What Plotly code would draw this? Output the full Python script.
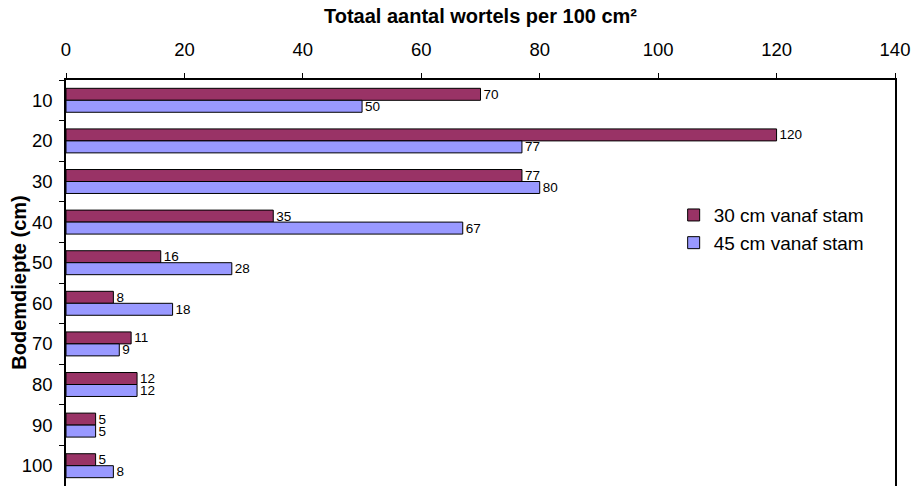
import plotly.graph_objects as go

depths = ["10", "20", "30", "40", "50", "60", "70", "80", "90", "100"]
roots_30cm = [70, 120, 77, 35, 16, 8, 11, 12, 5, 5]
roots_45cm = [50, 77, 80, 67, 28, 18, 9, 12, 5, 8]
x_ticks = [0, 20, 40, 60, 80, 100, 120, 140]

font_family = "Liberation Sans, Arial, sans-serif"
label_font = dict(size=13.5, color="black", family=font_family)

fig = go.Figure()
fig.add_trace(go.Bar(
    y=depths, x=roots_30cm, orientation="h", name="30 cm vanaf stam",
    marker=dict(color="#993366", line=dict(color="black", width=1)),
    text=roots_30cm, textposition="outside", cliponaxis=False,
    constraintext="none", textfont=label_font,
))
fig.add_trace(go.Bar(
    y=depths, x=roots_45cm, orientation="h", name="45 cm vanaf stam",
    marker=dict(color="#9999FF", line=dict(color="black", width=1)),
    text=roots_45cm, textposition="outside", cliponaxis=False,
    constraintext="none", textfont=label_font,
))

# Vertical axis title placed by hand so it sits close to the tick labels
fig.add_annotation(
    text="<b>Bodemdiepte (cm)</b>", textangle=-90,
    xref="paper", yref="paper", x=-0.057, y=0.5,
    xanchor="center", yanchor="middle", showarrow=False,
    font=dict(size=20, family=font_family, color="black"),
)

fig.update_layout(
    width=914, height=486,
    margin=dict(l=66, r=19, t=80, b=0),
    paper_bgcolor="white", plot_bgcolor="white",
    font=dict(family=font_family, color="black"),
    barmode="group", bargap=0.41, bargroupgap=0,
    showlegend=True,
    legend=dict(
        x=0.733, y=0.714, xanchor="left", yanchor="top",
        font=dict(size=19, family=font_family),
        bgcolor="rgba(0,0,0,0)", itemwidth=30,
    ),
    xaxis=dict(
        side="top", range=[0, 140], tickvals=x_ticks,
        showgrid=False, zeroline=False,
        showline=True, linecolor="black", linewidth=1.5,
        ticks="outside", ticklen=5, tickcolor="black",
        tickfont=dict(size=18.5), ticklabelstandoff=10,
        title=dict(text="<b>Totaal aantal wortels per 100 cm²</b>",
                   font=dict(size=20), standoff=10),
    ),
    yaxis=dict(
        autorange="reversed", type="category",
        showgrid=False, zeroline=False,
        showline=True, mirror=True, linecolor="black", linewidth=1.5,
        ticks="outside", ticklen=5, tickcolor="black", tickson="boundaries",
        tickfont=dict(size=18.5), ticklabelstandoff=8,
    ),
)

fig.write_html("out.html")
